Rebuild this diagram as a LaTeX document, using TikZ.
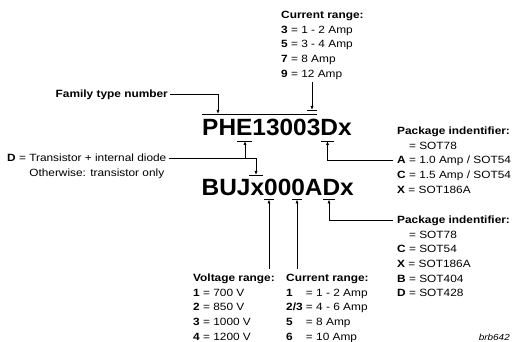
\documentclass[tikz,border=0pt]{standalone}
\usepackage{fontspec}
\setmainfont{Liberation Sans}[FakeStretch=1.13]
\newfontfamily\bigfont{Liberation Sans}[FakeStretch=1.04]
\usetikzlibrary{arrows.meta}
\newcommand\blk[1]{\begin{tabular}[t]{@{}l@{}}#1\end{tabular}}
\begin{document}
\begin{tikzpicture}[x=1pt,y=-1pt,
  txt/.style={inner sep=0pt, anchor=base west, font=\fontsize{10.5}{14.6}\selectfont},
  big/.style={inner sep=0pt, anchor=base west, font=\bigfont\bfseries\fontsize{23.5}{27}\selectfont},
  conn/.style={line width=0.8pt},
  arr/.style={conn, -{Latex[length=4pt,width=3.2pt]}},
  bar/.style={line width=0.8pt}]
\fill[white] (0,0) rectangle (512,342);
\useasboundingbox (0,0) rectangle (512,342);

% main type numbers
\node[big] (phe) at (202,135.5) {PHE13003Dx};
\node[big] (buj) at (201.5,195.5) {BUJx000ADx};

% text blocks
\node[txt] (cur1) at (281,18.7) {\blk{\textbf{Current range:}\\
\textbf{3} = 1 - 2 Amp\\
\textbf{5} = 3 - 4 Amp\\
\textbf{7} = 8 Amp\\
\textbf{9} = 12 Amp}};

\node[txt, anchor=base east] (fam) at (168,97.5) {\textbf{Family type number}};

\node[txt] (dn) at (7,161.5) {\blk{\textbf{D} = Transistor + internal diode\\
\phantom{\textbf{D} = }Otherwise: transistor only}};

\node[txt] (pk1) at (397,134.7) {\blk{\textbf{Package indentifier:}\\
\phantom{\textbf{A}} = SOT78\\
\textbf{A} = 1.0 Amp / SOT54\\
\textbf{C} = 1.5 Amp / SOT54\\
\textbf{X} = SOT186A}};

\node[txt] (pk2) at (397,223.7) {\blk{\textbf{Package indentifier:}\\
\phantom{\textbf{C}} = SOT78\\
\textbf{C} = SOT54\\
\textbf{X} = SOT186A\\
\textbf{B} = SOT404\\
\textbf{D} = SOT428}};

\node[txt] (volt) at (193,281.7) {\blk{\textbf{Voltage range:}\\
\textbf{1} = 700 V\\
\textbf{2} = 850 V\\
\textbf{3} = 1000 V\\
\textbf{4} = 1200 V}};

\node[txt] (cur2) at (286,281.7) {\blk{\textbf{Current range:}\\
\rlap{\textbf{1}}\phantom{\textbf{2/3}} = 1 - 2 Amp\\
\textbf{2/3} = 4 - 6 Amp\\
\rlap{\textbf{5}}\phantom{\textbf{2/3}} = 8 Amp\\
\rlap{\textbf{6}}\phantom{\textbf{2/3}} = 10 Amp}};

\node[inner sep=0pt, anchor=base east, font=\itshape\fontsize{8.8}{10}\selectfont] (ref) at (510,340) {brb642};

% bars
\coordinate (ovlA) at (202,114); \coordinate (ovlB) at (317,114);
\coordinate (famT) at (218,114);
\coordinate (c3A) at (307,110); \coordinate (c3B) at (317,110);
\coordinate (c3T) at (312,110); \coordinate (c3S) at (312,82);
\coordinate (eA) at (237,141); \coordinate (eB) at (252,141);
\coordinate (eT) at (245,141); \coordinate (eS) at (245,158);
\coordinate (dA) at (321,141); \coordinate (dB) at (334,141);
\coordinate (dT) at (327.5,141);
\coordinate (xA) at (249,175); \coordinate (xB) at (263,175);
\coordinate (xT) at (256,175);
\coordinate (o1A) at (264,199.5); \coordinate (o1B) at (274,199.5);
\coordinate (o1T) at (269,199.5); \coordinate (o1S) at (269,269);
\coordinate (o3A) at (292,199.5); \coordinate (o3B) at (302,199.5);
\coordinate (o3T) at (297,199.5); \coordinate (o3S) at (297,269);
\coordinate (d2A) at (323,199.5); \coordinate (d2B) at (335,199.5);
\coordinate (d2T) at (329,199.5);
\coordinate (p1) at (393,160); \coordinate (p2) at (393,220);

\foreach \a/\b in {ovlA/ovlB, c3A/c3B, eA/eB, dA/dB, xA/xB, o1A/o1B, o3A/o3B, d2A/d2B}
  \draw[bar] (\a) -- (\b);

% connectors
\draw[arr] (c3S) -- (c3T);
\draw[arr] ([xshift=2pt,yshift=3.5pt]fam.base east) -| (famT);
\draw[conn] ([xshift=2pt,yshift=3.5pt]dn.base east) -- (eS);
\draw[arr] (eS) -- (eT);
\draw[arr] (eS) -| (xT);
\draw[arr] (p1) -| (dT);
\draw[arr] (o1S) -- (o1T);
\draw[arr] (o3S) -- (o3T);
\draw[arr] (p2) -| (d2T);
\end{tikzpicture}
\end{document}
